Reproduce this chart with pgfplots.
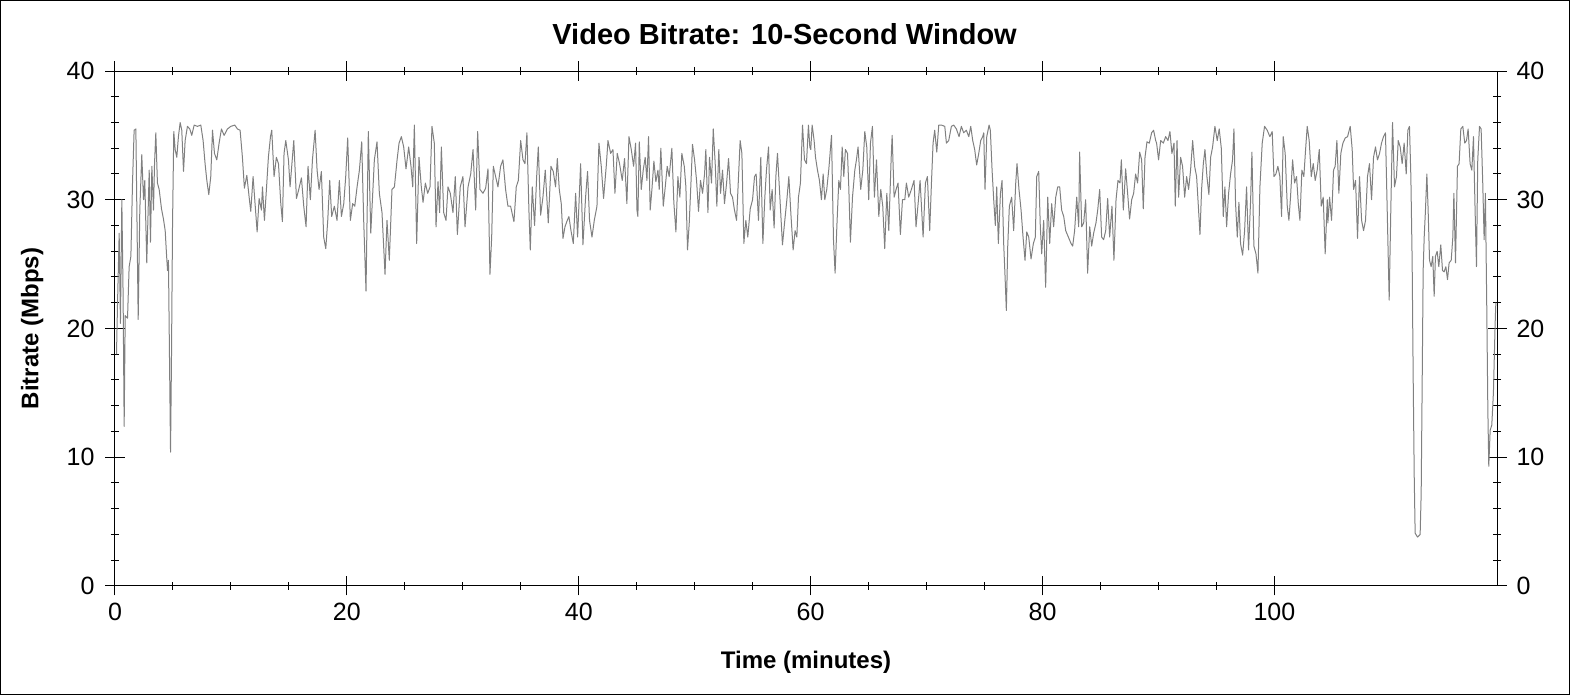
\documentclass[border=0pt]{standalone}
\usepackage{fontspec}
\setmainfont{Liberation Sans}
\usepackage{pgfplots}
\pgfplotsset{compat=1.18}

\definecolor{traceGray}{RGB}{128,128,128}

\pgfplotsset{
  bitrate frame/.style={
    scale only axis,
    width=691pt, height=257.5pt,
    at={(57.5pt,54.5pt)}, anchor=south west,
    xmin=0, xmax=119.2, ymin=0, ymax=40,
    xtick={0,20,...,100}, ytick={0,10,...,40},
    minor x tick num=3, minor y tick num=4,
    tick align=center,
    major tick length=9.5pt, minor tick length=4pt,
    tick style={black, line width=0.5pt},
    axis line style={line width=0.5pt},
    ticklabel style={font=\fontsize{12.5}{15}\selectfont},
    /pgf/number format/assume math mode=true,
  },
}

\begin{document}
\begin{tikzpicture}
\useasboundingbox (0,0) rectangle (785pt,347.5pt);
\draw[line width=0.5pt] (0.25pt,0.25pt) rectangle (784.75pt,347.25pt);

\begin{axis}[
  bitrate frame,
  title={Video Bitrate: 10-Second Window},
  title style={font=\fontsize{14.5}{17}\selectfont\bfseries,
    at={(axis description cs:0.4845,1.048)}, anchor=center},
  xlabel={Time (minutes)},
  ylabel={Bitrate (Mbps)},
  label style={font=\fontsize{12}{14}\selectfont\bfseries},
  xlabel style={at={(axis description cs:0.5,-0.148)}, anchor=center},
  ylabel style={at={(axis description cs:-0.060,0.5)}, anchor=center, rotate=0},
  yticklabel style={xshift=-2pt},
]
\addplot[traceGray, line width=0.5pt, line join=round] table {
t v
0.13 18.0
0.22 22.0
0.36 27.4
0.47 20.4
0.59 30.0
0.70 22.5
0.79 12.4
0.88 21.0
1.08 20.8
1.22 24.8
1.37 25.6
1.51 31.3
1.65 35.4
1.80 35.5
2.00 20.7
2.14 29.2
2.31 33.5
2.46 30.0
2.57 31.5
2.74 25.1
2.95 32.3
3.06 26.7
3.18 32.6
3.32 29.2
3.41 32.8
3.52 35.2
3.66 31.3
3.81 30.8
4.01 29.3
4.18 28.5
4.33 27.6
4.44 25.8
4.53 24.5
4.61 25.3
4.70 17.8
4.79 10.4
4.87 17.5
4.96 27.9
5.07 35.3
5.19 33.9
5.33 33.3
5.47 34.9
5.62 36.0
5.76 35.4
5.91 32.2
6.05 34.6
6.25 35.7
6.45 35.5
6.62 35.0
6.83 35.8
7.11 35.7
7.40 35.8
7.60 34.6
7.77 32.8
7.92 31.5
8.09 30.4
8.26 31.8
8.41 35.4
8.58 33.6
8.78 33.1
8.98 34.4
9.18 35.5
9.41 35.0
9.70 35.5
9.99 35.7
10.33 35.8
10.56 35.5
10.79 35.4
10.99 33.3
11.16 30.9
11.37 31.9
11.57 30.2
11.71 29.1
11.91 31.8
12.08 29.7
12.26 27.5
12.43 30.1
12.63 29.2
12.72 31.0
12.89 28.4
13.06 30.8
13.23 33.3
13.41 34.9
13.52 35.4
13.72 31.8
13.92 33.3
14.10 32.8
14.30 29.7
14.44 28.3
14.58 33.6
14.73 34.6
14.96 33.1
15.10 31.0
15.42 34.6
15.65 30.1
15.85 30.8
16.08 31.7
16.28 29.5
16.48 27.9
16.65 32.6
16.85 30.0
17.03 33.1
17.26 35.4
17.43 32.3
17.60 30.8
17.80 32.2
18.00 27.1
18.18 26.2
18.35 28.4
18.52 31.5
18.69 28.7
18.92 29.5
19.15 28.4
19.35 31.5
19.53 28.7
19.73 29.7
19.90 31.8
20.07 34.8
20.30 28.4
20.50 29.7
20.68 29.5
20.88 31.0
21.08 32.3
21.28 34.5
21.45 28.4
21.65 22.9
21.85 35.3
22.06 27.4
22.23 30.5
22.37 33.1
22.60 34.5
22.80 30.5
23.03 29.0
23.29 24.2
23.46 28.4
23.66 25.3
23.89 30.8
24.10 31.0
24.33 33.1
24.50 34.4
24.70 34.9
24.90 34.1
25.10 32.4
25.33 34.1
25.53 32.6
25.68 31.0
25.82 35.8
26.02 26.6
26.22 33.3
26.42 31.0
26.57 29.8
26.77 31.3
26.97 30.5
27.17 31.0
27.34 35.7
27.54 34.4
27.69 27.9
27.86 31.4
28.00 29.0
28.15 34.1
28.35 29.0
28.55 28.4
28.72 31.0
28.92 30.5
29.15 29.0
29.35 31.8
29.53 27.3
29.78 31.0
30.01 31.8
30.19 27.9
30.45 31.0
30.68 32.0
30.88 33.9
31.11 29.2
31.28 35.3
31.48 30.8
31.74 30.5
31.97 30.9
32.17 32.4
32.34 24.2
32.49 27.1
32.63 32.6
32.83 31.8
33.03 31.0
33.26 32.6
33.46 33.1
33.69 30.8
33.89 29.5
34.12 29.5
34.41 28.3
34.61 31.0
34.79 31.5
34.99 34.6
35.19 33.1
35.36 32.8
35.53 35.2
35.70 29.2
35.82 26.1
35.99 31.0
36.19 28.0
36.37 31.8
36.51 34.1
36.71 28.8
36.91 30.2
37.11 32.3
37.37 28.2
37.60 32.6
37.80 32.2
38.00 31.0
38.15 33.2
38.32 30.8
38.49 29.7
38.64 27.0
38.81 27.9
39.01 28.4
39.15 28.7
39.33 27.6
39.53 26.6
39.73 30.5
39.90 27.1
40.02 29.7
40.16 32.8
40.36 26.5
40.59 30.2
40.76 32.2
40.93 28.4
41.14 27.1
41.34 28.4
41.57 29.5
41.74 34.4
41.94 32.6
42.14 30.1
42.37 32.6
42.52 34.6
42.75 33.6
42.95 33.9
43.12 30.5
43.32 33.6
43.52 32.8
43.75 31.5
43.95 33.2
44.15 29.7
44.33 34.9
44.53 33.9
44.73 32.6
44.90 34.4
45.02 29.2
45.10 28.7
45.22 34.5
45.39 30.8
45.56 32.3
45.73 33.3
45.88 31.5
46.02 34.9
46.16 29.2
46.31 30.8
46.48 33.0
46.65 31.4
46.83 32.3
46.94 30.8
47.08 34.0
47.29 29.5
47.46 31.0
47.63 32.6
47.80 31.8
48.03 34.0
48.20 29.8
48.38 27.5
48.55 31.8
48.72 30.2
48.89 33.6
49.10 32.6
49.24 31.0
49.38 26.1
49.53 28.2
49.70 31.8
49.81 34.3
49.99 33.1
50.16 31.5
50.33 29.1
50.50 31.5
50.68 30.5
50.85 32.0
50.96 33.9
51.14 29.0
51.28 33.3
51.45 31.3
51.60 35.5
51.77 32.8
51.91 29.5
52.08 33.9
52.23 30.5
52.40 32.3
52.57 29.7
52.75 31.3
52.92 33.2
53.09 30.5
53.26 30.2
53.43 29.2
53.61 28.4
53.78 31.8
53.92 34.6
54.07 33.6
54.24 26.6
54.41 28.4
54.58 27.1
54.79 29.3
54.99 30.0
55.16 31.8
55.30 32.0
55.50 28.4
55.70 33.3
55.88 26.6
56.05 30.2
56.19 32.3
56.37 34.1
56.51 29.2
56.68 30.8
56.85 27.8
57.00 31.8
57.14 33.6
57.31 30.8
57.57 26.5
57.75 28.2
57.95 30.0
58.12 31.8
58.29 29.0
58.49 26.1
58.66 27.6
58.81 27.1
58.95 30.2
59.12 31.3
59.30 35.8
59.47 33.1
59.64 32.8
59.81 35.8
59.93 34.1
60.01 33.9
60.13 35.8
60.30 34.6
60.42 33.3
60.59 32.3
60.76 31.5
60.93 30.0
61.08 32.0
61.22 30.0
61.39 30.8
61.57 32.4
61.80 35.0
61.97 26.9
62.11 24.3
62.26 27.9
62.43 31.5
62.57 30.8
62.72 34.1
62.86 31.8
63.00 33.9
63.18 33.6
63.29 31.0
63.43 26.7
63.61 30.2
63.81 32.3
63.95 33.1
64.09 34.1
64.32 30.8
64.50 32.3
64.67 35.3
64.84 34.1
65.01 30.0
65.16 34.4
65.33 35.7
65.50 30.2
65.68 33.1
65.88 28.7
66.05 30.8
66.22 29.5
66.39 26.2
66.57 30.5
66.74 27.6
66.94 33.1
67.03 35.0
67.20 30.2
67.37 30.8
67.54 31.3
67.74 27.3
67.92 30.0
68.12 30.0
68.26 31.3
68.46 30.2
68.69 30.8
68.92 31.5
69.09 27.9
69.27 29.7
69.44 31.5
69.70 27.1
69.90 31.3
70.07 31.8
70.27 27.6
70.42 31.3
70.56 34.4
70.70 35.4
70.88 33.7
71.05 35.8
71.28 35.8
71.57 35.7
71.71 34.4
71.91 34.6
72.14 35.7
72.34 35.8
72.57 35.5
72.80 34.9
73.00 35.7
73.20 35.2
73.43 35.4
73.64 34.9
73.81 35.7
73.98 34.6
74.15 33.9
74.32 32.7
74.50 33.6
74.67 34.6
74.84 34.9
74.93 35.2
75.04 30.8
75.19 34.9
75.39 35.8
75.50 35.4
75.65 32.3
75.79 30.0
75.93 28.0
76.05 31.0
76.19 26.6
76.37 30.5
76.51 31.5
76.65 26.6
76.77 24.0
76.88 21.4
77.00 26.4
77.14 29.5
77.34 30.2
77.51 27.6
77.69 31.3
77.80 32.8
77.97 30.8
78.15 29.2
78.32 27.1
78.49 25.3
78.64 27.5
78.81 27.1
79.01 25.4
79.21 26.6
79.38 27.1
79.50 31.8
79.67 32.2
79.81 27.9
79.93 25.8
80.10 28.4
80.27 23.2
80.45 30.2
80.62 26.6
80.79 29.7
80.96 27.9
81.14 30.2
81.31 31.0
81.48 31.0
81.65 29.2
81.83 28.7
82.00 27.6
82.23 27.1
82.46 26.6
82.60 26.4
82.77 27.6
82.95 30.2
83.12 27.9
83.20 33.7
83.38 27.9
83.55 28.2
83.72 30.0
83.89 24.3
84.07 27.9
84.24 26.4
84.41 27.4
84.61 28.2
84.76 29.2
84.93 30.8
85.10 27.1
85.27 26.9
85.45 27.6
85.62 30.1
85.79 27.1
85.99 29.5
86.16 25.3
86.34 30.0
86.51 31.5
86.68 31.3
86.80 33.1
86.97 29.2
87.17 32.4
87.34 30.5
87.51 28.5
87.69 30.0
87.86 30.5
88.03 32.0
88.20 31.3
88.38 33.7
88.55 33.1
88.69 29.3
88.84 33.3
89.01 34.5
89.21 34.4
89.41 35.2
89.58 35.4
89.76 34.6
89.84 34.4
90.01 33.1
90.19 34.6
90.42 34.4
90.62 34.9
90.82 34.6
90.99 35.3
91.16 33.6
91.34 34.4
91.45 29.5
91.60 34.6
91.74 30.2
91.91 33.3
92.08 32.6
92.26 30.2
92.43 31.8
92.60 30.8
92.77 32.3
92.95 34.6
93.12 32.6
93.29 31.8
93.46 29.2
93.58 27.3
93.72 30.8
93.87 32.8
94.01 33.9
94.18 31.8
94.35 30.4
94.50 33.3
94.67 34.1
94.87 35.7
95.07 34.6
95.24 35.5
95.42 34.0
95.59 28.7
95.73 31.0
95.88 27.9
96.05 30.5
96.22 32.0
96.39 33.1
96.51 35.5
96.65 29.7
96.80 27.1
96.94 29.8
97.08 26.6
97.26 25.7
97.43 27.6
97.60 31.0
97.77 26.1
97.95 30.0
98.06 33.7
98.23 26.4
98.41 25.8
98.58 24.3
98.75 31.0
98.95 34.4
99.15 35.7
99.38 35.4
99.61 34.9
99.81 35.3
99.96 31.8
100.13 32.0
100.30 32.6
100.47 31.8
100.62 28.7
100.76 34.9
100.93 33.6
101.11 29.5
101.25 28.4
101.39 30.2
101.57 33.1
101.74 31.3
101.91 31.8
102.06 29.7
102.20 28.4
102.37 32.3
102.54 31.8
102.69 33.9
102.83 35.7
103.00 34.6
103.18 31.8
103.35 32.8
103.52 31.5
103.69 32.3
103.87 33.9
104.04 29.5
104.21 30.2
104.38 25.8
104.56 30.0
104.61 28.2
104.76 30.2
104.93 28.4
105.10 32.3
105.24 32.6
105.39 34.6
105.56 30.5
105.73 33.6
105.91 34.4
106.11 34.8
106.31 34.9
106.54 35.7
106.71 33.9
106.83 30.8
107.00 31.5
107.17 27.0
107.34 31.8
107.52 28.4
107.69 27.6
107.86 28.4
108.03 31.8
108.20 32.8
108.38 30.0
108.55 33.3
108.72 34.1
108.89 33.1
109.07 33.6
109.24 34.4
109.41 34.9
109.58 35.2
109.73 29.2
109.90 22.2
110.04 29.2
110.19 36.0
110.36 31.0
110.53 31.8
110.68 34.6
110.85 34.1
111.02 32.8
111.19 34.4
111.37 32.0
111.51 35.4
111.65 35.7
111.77 31.8
111.88 25.3
111.97 16.2
112.06 8.5
112.14 4.1
112.34 3.8
112.57 4.0
112.66 7.2
112.75 16.2
112.83 24.5
112.92 27.1
113.03 29.2
113.15 32.0
113.26 29.2
113.38 25.3
113.52 24.8
113.66 25.6
113.78 22.5
113.89 25.6
114.04 26.0
114.18 24.8
114.35 26.5
114.50 24.5
114.64 24.4
114.79 24.8
114.93 23.8
115.07 25.1
115.25 25.3
115.39 27.1
115.48 30.5
115.62 25.1
115.79 32.6
115.93 32.8
116.08 35.5
116.25 35.7
116.42 34.4
116.57 34.6
116.71 35.5
116.88 32.8
117.03 32.3
117.17 34.9
117.31 29.2
117.43 24.8
117.54 33.1
117.69 35.7
117.83 35.5
117.97 31.3
118.09 26.9
118.20 30.5
118.32 21.4
118.41 13.7
118.49 9.3
118.61 12.1
118.75 12.5
118.89 15.0
119.04 20.4
119.10 22.0
};
\end{axis}

% right-hand tick labels
\begin{axis}[
  bitrate frame,
  xtick=\empty,
  yticklabel pos=right,
  ytick style={draw=none},
  minor y tick num=0,
  axis line style={draw=none},
  yticklabel style={xshift=1.5pt},
]
\end{axis}
\end{tikzpicture}
\end{document}
